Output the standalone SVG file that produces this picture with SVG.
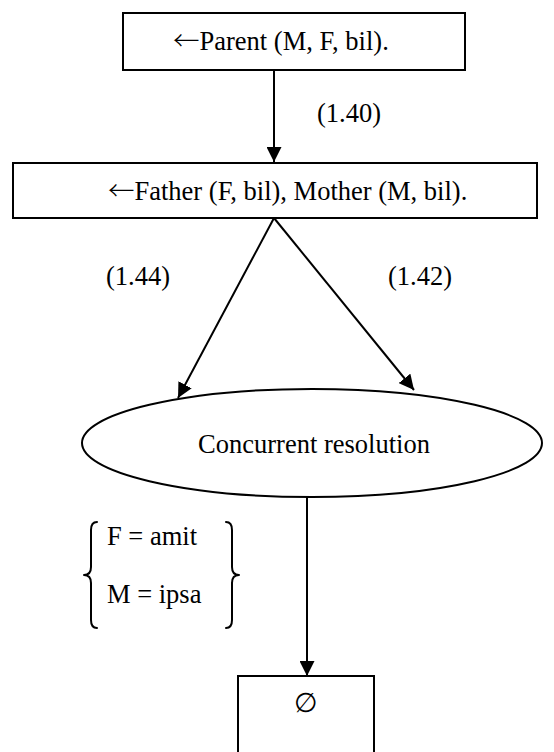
<svg xmlns="http://www.w3.org/2000/svg" width="554" height="752" viewBox="0 0 554 752">
  <style>
    .box { fill: #ffffff; stroke: #000000; stroke-width: 2; }
    .edge { fill: none; stroke: #000000; stroke-width: 2; }
    .brace { fill: none; stroke: #000000; stroke-width: 2; stroke-linecap: round; stroke-linejoin: round; }
    text { font-family: "Liberation Serif", "Times New Roman", serif; font-size: 26.5px; fill: #000000; }
    .larr { font-family: "Noto Sans CJK JP", "DejaVu Sans", sans-serif; font-weight: 300; }
  </style>
  <defs>
    <marker id="arrow" viewBox="0 0 10 10" refX="10" refY="5" markerUnits="userSpaceOnUse" markerWidth="15" markerHeight="15" orient="auto">
      <path d="M0,0 L10,5 L0,10 z" fill="#000000"/>
    </marker>
  </defs>
  <rect width="554" height="752" fill="#ffffff"/>

  <g id="connectors">
    <line class="edge" x1="274" y1="70" x2="274" y2="162" marker-end="url(#arrow)"/>
    <line class="edge" x1="274" y1="218" x2="178" y2="398" marker-end="url(#arrow)"/>
    <line class="edge" x1="274" y1="218" x2="414" y2="390" marker-end="url(#arrow)"/>
    <line class="edge" x1="307" y1="497" x2="307" y2="676" marker-end="url(#arrow)"/>
    <text x="317" y="122">(1.40)</text>
    <text x="106" y="285">(1.44)</text>
    <text x="388" y="285">(1.42)</text>
  </g>

  <g id="parent">
    <rect class="box" x="123" y="13" width="342" height="57"/>
    <text x="173" y="50"><tspan class="larr">←</tspan>Parent (M, F, bil).</text>
  </g>

  <g id="father-mother">
    <rect class="box" x="13" y="163" width="524" height="55"/>
    <text x="108" y="200"><tspan class="larr">←</tspan>Father (F, bil), Mother (M, bil).</text>
  </g>

  <g id="concurrent-resolution">
    <ellipse class="box" cx="312" cy="443" rx="230" ry="54"/>
    <text x="314" y="453" text-anchor="middle">Concurrent resolution</text>
  </g>

  <g id="bindings">
    <path class="brace" d="M97,522 Q91,522 91,530 L91,567 Q91,575 84,575 Q91,575 91,583 L91,620 Q91,628 97,628"/>
    <text x="107" y="545">F = amit</text>
    <text x="107" y="603">M = ipsa</text>
    <path class="brace" d="M226,522 Q232,522 232,530 L232,567 Q232,575 239,575 Q232,575 232,583 L232,620 Q232,628 226,628"/>
  </g>

  <g id="empty-result">
    <rect class="box" x="238" y="676" width="136" height="90"/>
    <text x="306" y="712" text-anchor="middle">∅</text>
  </g>
</svg>
